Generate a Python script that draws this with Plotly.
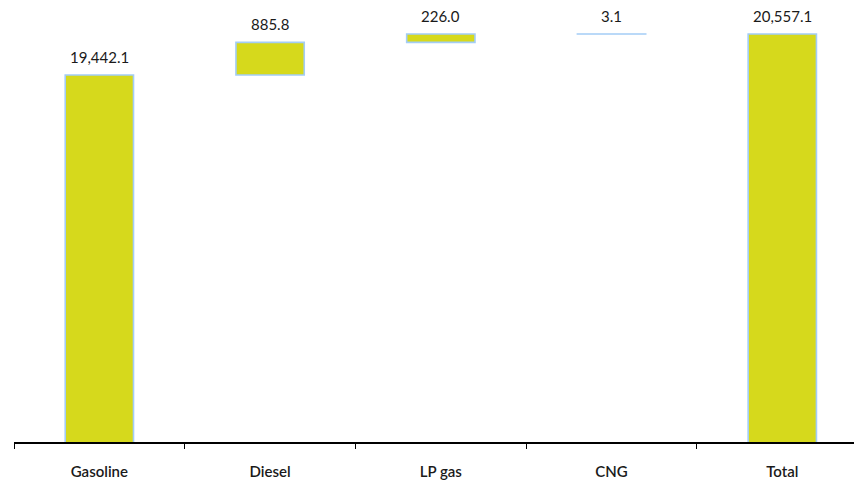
import plotly.graph_objects as go

# Fuel consumption breakdown (waterfall)
categories = ["Gasoline", "Diesel", "LP gas", "CNG", "Total"]
values = [19442.1, 885.8, 226.0, 3.1, 20557.1]
measures = ["absolute", "relative", "relative", "relative", "absolute"]

FILL = "#d6d91c"
EDGE = "#a3cdf6"
FONT = "Lato"

bar_style = dict(marker=dict(color=FILL, line=dict(color=EDGE, width=1.6)))

fig = go.Figure(
    go.Waterfall(
        x=categories,
        y=values,
        measure=measures,
        width=0.4,
        connector=dict(visible=False),
        increasing=bar_style,
        decreasing=bar_style,
        totals=bar_style,
        hoverinfo="x+y",
    )
)

# value labels above the top of each step
running = 0.0
for cat, val, m in zip(categories, values, measures):
    top = val if m == "absolute" else running + val
    running = top
    fig.add_annotation(
        x=cat, y=top, text=f"{val:,.1f}", showarrow=False,
        yanchor="bottom", yshift=7,
        font=dict(family=FONT, size=15, color="#1a1a1a"),
    )

fig.update_layout(
    width=854, height=485,
    margin=dict(l=14, r=0, t=0, b=43),
    paper_bgcolor="white", plot_bgcolor="white",
    showlegend=False,
    font=dict(family=FONT, size=15, color="#1a1a1a"),
)
fig.update_xaxes(
    range=[-0.5, 4.42],
    showline=True, linecolor="black", linewidth=2,
    ticks="outside", tickson="boundaries", ticklen=5, tickcolor="black",
    tickfont=dict(family=FONT, size=15, color="#1a1a1a", weight=600),
    ticklabelstandoff=15,
    showgrid=False, zeroline=False,
)
fig.update_yaxes(
    range=[9460, 21480],
    visible=False, showgrid=False, zeroline=False,
)

fig.write_html("out.html")
